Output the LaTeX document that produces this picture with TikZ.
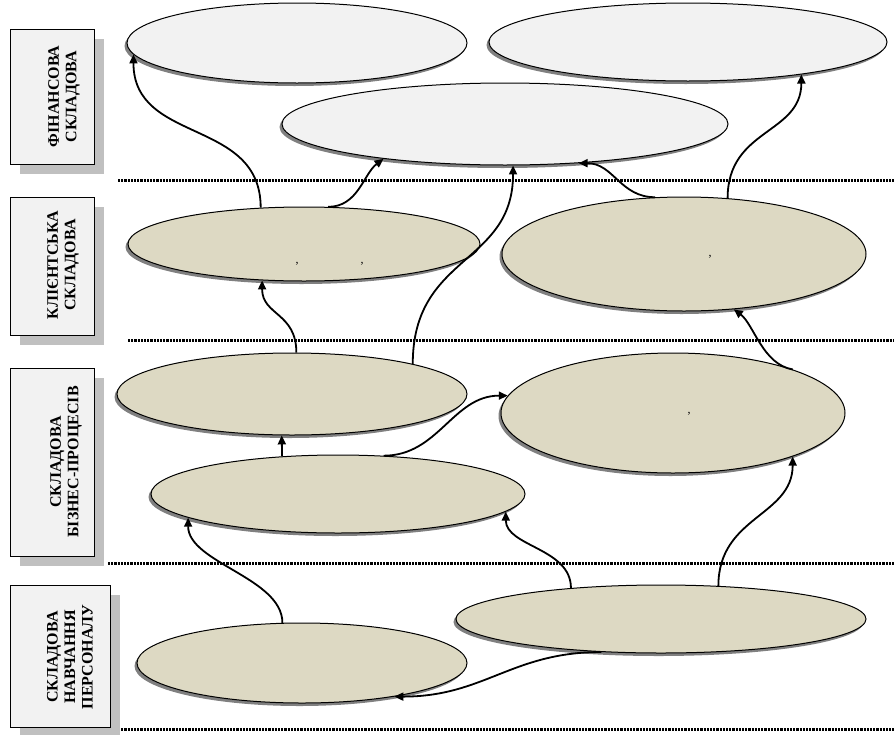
\documentclass[tikz,border=0pt]{standalone}
\usepackage{fontspec}
\setmainfont{Liberation Serif}
\usetikzlibrary{shapes.geometric, arrows.meta, shadows}
\definecolor{lightfill}{HTML}{F2F2F2}
\definecolor{beige}{HTML}{DDD9C3}
\definecolor{boxshadow}{HTML}{C0C0C0}
\definecolor{ellshadow}{HTML}{808080}
\tikzset{
    goal/.style={ellipse, draw=black, line width=1pt, inner sep=0pt,
        drop shadow={shadow xshift=-2.5pt, shadow yshift=-3pt, fill=ellshadow, opacity=1}},
    fingoal/.style={goal, fill=lightfill},
    opgoal/.style={goal, fill=beige},
    sidebox/.style={rectangle, draw=black, line width=0.8pt, fill=lightfill, inner sep=0pt,
        drop shadow={shadow xshift=10pt, shadow yshift=-10pt, fill=boxshadow, opacity=1}},
    sidelabel/.style={rotate=90, align=center, inner sep=0pt, font=\bfseries\fontsize{16}{17.5}\selectfont},
    commatext/.style={inner sep=0pt, font=\fontsize{12}{12}\selectfont},
    link/.style={line width=1.8pt, -{Triangle[length=9pt,width=8pt]}},
    divider/.style={line width=3pt, dash pattern=on 2.2pt off 1pt}
}
\begin{document}
\begin{tikzpicture}[x=1pt, y=-1pt]
        \useasboundingbox (0,0) rectangle (894,734);

        % Level dividers
        \draw[divider] (118,180) -- (894,180);
        \draw[divider] (128,340) -- (894,340);
        \draw[divider] (108,563) -- (894,563);
        \draw[divider] (118,729) -- (894,729);

        % Side boxes
        \node[sidebox, minimum width=84pt, minimum height=135pt] (fbox) at (52,96.5) {};
        \node[sidelabel] (flabel) at (64,96.5) {ФІНАНСОВА\\СКЛАДОВА};
        \node[sidebox, minimum width=84pt, minimum height=138pt] (cbox) at (52,266) {};
        \node[sidelabel] (clabel) at (63,265) {КЛІЄНТСЬКА\\СКЛАДОВА};
        \node[sidebox, minimum width=84pt, minimum height=188pt] (pbox) at (52,462) {};
        \node[sidelabel] (plabel) at (66,462) {СКЛАДОВА\\БІЗНЕС-ПРОЦЕСІВ};
        \node[sidebox, minimum width=100pt, minimum height=142pt] (hbox) at (60,656) {};
        \node[sidelabel] (hlabel) at (70,657) {СКЛАДОВА\\НАВЧАННЯ\\ПЕРСОНАЛУ};

        % Financial goals
        \node[fingoal, minimum width=340pt, minimum height=80pt] (fin1) at (297,43) {};
        \node[fingoal, minimum width=398pt, minimum height=78pt] (fin2) at (688,42) {};
        \node[fingoal, minimum width=446pt, minimum height=82pt] (fin3) at (505,124) {};

        % Client goals
        \node[opgoal, minimum width=352pt, minimum height=74pt] (cl1) at (304,244) {};
        \node[opgoal, minimum width=364pt, minimum height=114pt] (cl2) at (684,254) {};
        \node[commatext] (cl1a) at (297,264) {,};
        \node[commatext] (cl1b) at (362,264) {,};
        \node[commatext] (cl2a) at (710,257) {,};

        % Business process goals
        \node[opgoal, minimum width=350pt, minimum height=82pt] (bp1) at (292,394) {};
        \node[opgoal, minimum width=374pt, minimum height=78pt] (bp2) at (338,494) {};
        \node[opgoal, minimum width=344pt, minimum height=120pt] (bp3) at (673,413) {};
        \node[commatext] (bp3a) at (689,414) {,};

        % Personnel goals
        \node[opgoal, minimum width=330pt, minimum height=80pt] (hr1) at (302,663) {};
        \node[opgoal, minimum width=410pt, minimum height=68pt] (hr2) at (661,619) {};

        % Links
        \draw[link] (cl1.140) .. controls +(0,-90) and +(0,90) .. (fin1.184);
        \draw[link] (cl1.57) .. controls +(30,0) and +(-20,15) .. (fin3.196);
        \draw[link] (bp1.14) .. controls +(0,-110) and +(0,100) .. (fin3.281);
        \draw[link] (cl2.117) .. controls +(-35,0) and +(35,0) .. (fin3.332);
        \draw[link] (cl2.52) .. controls +(0,-70) and +(0,60) .. (fin2.344);
        \draw[link] (bp1.84) .. controls +(0,-40) and +(0,35) .. (cl1.221);
        \draw[link] (bp3.20) .. controls +(-30,-5) and +(20,15) .. (cl2.312);
        \draw[link] (bp2.146) -- (bp1.256);
        \draw[link] (bp2.40) .. controls +(55,0) and +(-55,0) .. (bp3.174);
        \draw[link] (hr1.116) .. controls +(0,-45) and +(0,45) .. (bp2.189);
        \draw[link] (hr2.161) .. controls +(0,-40) and +(0,35) .. (bp2.354);
        \draw[link] (hr2.30) .. controls +(0,-70) and +(0,60) .. (bp3.340);
        \draw[link] (hr2.209) .. controls +(-90,0) and +(90,0) .. (hr1.340);
    \end{tikzpicture}
\end{document}
